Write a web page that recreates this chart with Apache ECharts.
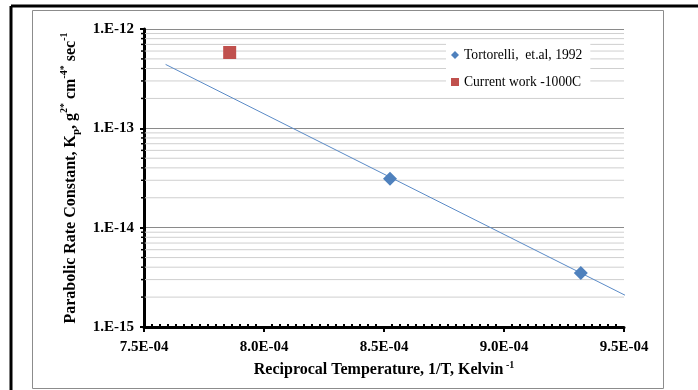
<!doctype html>
<html>
<head>
<meta charset="utf-8">
<title>Parabolic rate constant</title>
<style>
  html, body { margin: 0; padding: 0; background: #fff; }
  #main { width: 698px; height: 390px; }
</style>
</head>
<body>
<div id="main"></div>
<script src="https://cdn.jsdelivr.net/npm/echarts@6/dist/echarts.min.js"></script>
<script>
// reciprocal temperature (1/K) and Kp values
var tortorelliX = [8.525e-4, 9.32e-4];
var tortorelliY = [3.1e-14, 3.5e-15];
var currentX = [7.857e-4];
var currentY = [5.8e-13];
// exponential trendline end points
var trendX = [7.59e-4, 9.52e-4];
var trendY = [4.4e-13, 2.0e-15];

var seriesNames = ['Tortorelli,  et.al, 1992', 'Current work -1000C'];
var decades = [1e-15, 1e-14, 1e-13];
var minorSteps = [2, 3, 4, 5, 6, 7, 8, 9];
var xMin = 7.5e-4, xMax = 9.5e-4;

var serif = 'Liberation Serif';

function pairs(xs, ys) {
    return xs.map(function (x, i) { return [x, ys[i]]; });
}

function fmtX(v) {
    var parts = v.toExponential(1).split('e');
    var n = parseInt(parts[1], 10);
    return parts[0] + 'E' + (n < 0 ? '-' : '+') + String(Math.abs(n)).padStart(2, '0');
}

function fmtY(v) {
    var n = Math.round(Math.log10(v));
    return '1.E' + n;
}

// minor log gridlines (2..9 of each decade) plus small ticks on the y axis
var minorValues = [];
decades.forEach(function (d) {
    minorSteps.forEach(function (s) { minorValues.push(s * d); });
});

function renderMinor(params, api) {
    var v = api.value(0);
    var a = api.coord([xMin, v]);
    var b = api.coord([xMax, v]);
    return {
        type: 'group',
        children: [{
            type: 'line',
            shape: { x1: a[0], y1: a[1], x2: b[0], y2: b[1] },
            style: { stroke: '#cfcfcf', lineWidth: 1 },
            z2: 0
        }, {
            type: 'line',
            shape: { x1: a[0] - 3, y1: a[1], x2: a[0] + 1, y2: a[1] },
            style: { stroke: '#000', lineWidth: 1.5 },
            z2: 10
        }]
    };
}

var chart = echarts.init(document.getElementById('main'));

var option = {
    animation: false,
    backgroundColor: '#fff',
    textStyle: { fontFamily: serif },
    graphic: [
        { type: 'line', shape: { x1: 11, y1: 6, x2: 698, y2: 6 }, style: { stroke: '#000', lineWidth: 3 } },
        { type: 'line', shape: { x1: 11, y1: 6, x2: 11, y2: 390 }, style: { stroke: '#000', lineWidth: 3 } },
        { type: 'rect', shape: { x: 32.5, y: 10.5, width: 631, height: 378 }, style: { stroke: '#8c8c8c', fill: null, lineWidth: 1 } }
    ],
    grid: { left: 144, top: 29, right: 74, bottom: 63 },
    legend: {
        data: seriesNames,
        orient: 'vertical',
        left: 446,
        top: 42,
        backgroundColor: '#fff',
        padding: [6, 8, 6, 5],
        itemWidth: 8,
        itemHeight: 8,
        itemGap: 13,
        textStyle: { fontFamily: serif, fontSize: 13.6, color: '#000' }
    },
    xAxis: [{
        type: 'value',
        min: xMin,
        max: xMax,
        interval: 0.5e-4,
        name: '{b|Reciprocal Temperature, 1/T, Kelvin}{sup| -1}',
        nameLocation: 'middle',
        nameGap: 33,
        nameTextStyle: {
            rich: {
                b: { fontFamily: serif, fontSize: 16, fontWeight: 'bold', color: '#000', lineHeight: 20 },
                sup: { fontFamily: serif, fontSize: 10, fontWeight: 'bold', color: '#000', verticalAlign: 'top', lineHeight: 20 }
            }
        },
        axisLine: { lineStyle: { color: '#000', width: 3 } },
        axisTick: { length: 5, lineStyle: { color: '#000', width: 2 } },
        splitLine: { show: false },
        axisLabel: {
            formatter: fmtX,
            margin: 13,
            fontFamily: serif,
            fontSize: 15,
            fontWeight: 'bold',
            color: '#000'
        }
    }, {
        type: 'value',
        position: 'bottom',
        min: xMin,
        max: xMax,
        interval: 0.5e-4,
        axisLine: { show: false },
        axisTick: { show: false, inside: true },
        minorTick: { show: true, splitNumber: 15, length: 3, lineStyle: { color: '#000', width: 2 } },
        axisLabel: { show: false },
        splitLine: { show: false }
    }],
    yAxis: {
        type: 'log',
        logBase: 10,
        min: 1e-15,
        max: 1e-12,
        name: '{b|Parabolic Rate Constant, K}{sub|p}{b|, g}{sup|2*}{b| cm}{sup|-4*}{b| sec}{sup|-1}',
        nameLocation: 'middle',
        nameRotate: 90,
        nameGap: 58,
        nameTextStyle: {
            rich: {
                b: { fontFamily: serif, fontSize: 16, fontWeight: 'bold', color: '#000', lineHeight: 22 },
                sup: { fontFamily: serif, fontSize: 10, fontWeight: 'bold', color: '#000', verticalAlign: 'top', lineHeight: 22 },
                sub: { fontFamily: serif, fontSize: 11, fontWeight: 'bold', color: '#000', verticalAlign: 'bottom', lineHeight: 22 }
            }
        },
        axisLine: { lineStyle: { color: '#000', width: 3 } },
        axisTick: { length: 4, lineStyle: { color: '#000', width: 2 } },
        splitLine: { lineStyle: { color: '#8a8a8a', width: 1.2 } },
        axisLabel: {
            formatter: fmtY,
            margin: 10,
            fontFamily: serif,
            fontSize: 15,
            fontWeight: 'bold',
            color: '#000'
        }
    },
    series: [{
        name: 'minor grid',
        type: 'custom',
        silent: true,
        z: 1,
        clip: false,
        encode: { x: 1, y: 0 },
        data: minorValues.map(function (v) { return [v, xMin]; }),
        renderItem: renderMinor
    }, {
        name: 'trend',
        type: 'line',
        data: pairs(trendX, trendY),
        clip: false,
        showSymbol: false,
        silent: true,
        z: 2,
        lineStyle: { color: '#5a8ac6', width: 1 }
    }, {
        name: seriesNames[0],
        type: 'scatter',
        symbol: 'diamond',
        symbolSize: 14,
        data: pairs(tortorelliX, tortorelliY),
        itemStyle: { color: '#4f81bd', opacity: 1 },
        z: 3
    }, {
        name: seriesNames[1],
        type: 'scatter',
        symbol: 'rect',
        symbolSize: 13,
        data: pairs(currentX, currentY),
        itemStyle: { color: '#c0504d', opacity: 1 },
        z: 3
    }]
};

chart.setOption(option);
window.addEventListener('resize', function () {
    chart.resize();
});
</script>
</body>
</html>
